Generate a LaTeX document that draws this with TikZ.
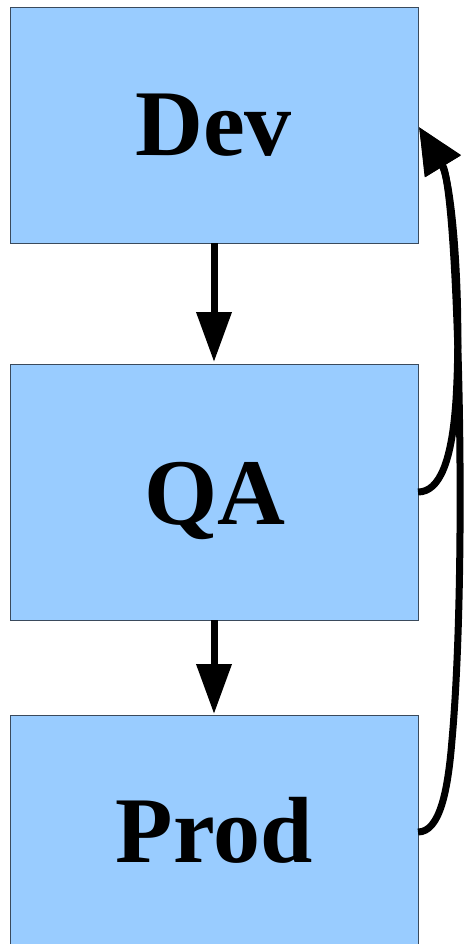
\documentclass[tikz,border=0pt]{standalone}
\usepackage{fontspec}
\setmainfont{Liberation Serif}
\usetikzlibrary{arrows.meta}
\definecolor{boxfill}{HTML}{99CCFF}
\definecolor{boxline}{HTML}{3A4A5C}
\begin{document}
\begin{tikzpicture}[x=1pt,y=-1pt,
  stagebox/.style={draw=boxline,line width=1pt,fill=boxfill,rectangle,inner sep=0pt,minimum width=408pt},
  stagelabel/.style={anchor=base,inner sep=0pt,font=\fontsize{94}{94}\selectfont\bfseries},
  flow/.style={line width=7pt,-{Triangle[length=50pt,width=34pt]}},
  back/.style={line width=7pt,-{Triangle[length=46pt,width=40pt]}}]
\useasboundingbox (0,0) rectangle (465,944);
\begin{scope}
\clip (0,0) rectangle (465,944);
\node[stagebox,minimum height=235pt] (dev) at (214,125.5) {};
\node[stagebox,minimum height=256pt] (qa) at (214,492) {};
\node[stagebox,minimum height=250pt] (prod) at (214,840) {};
\end{scope}
\node[stagelabel] (devt) at (213.5,156) {Dev};
\node[stagelabel] (qat) at (215,524) {QA};
\node[stagelabel] (prodt) at (214,862) {Prod};
\coordinate (tip) at (419,127);
\coordinate (qaout) at (418,492);
\coordinate (prodout) at (418,832);
\coordinate (devin) at (214,243);
\coordinate (qain) at (214,362);
\coordinate (qabot) at (214,620);
\coordinate (prodin) at (214,714);
\draw[flow] (devin) -- (qain);
\draw[flow] (qabot) -- (prodin);
\draw[back] (qaout) .. controls (440,492) and (452,460) .. (456,400)
  .. controls (462,300) and (452,182) .. (tip);
\draw[back] (prodout) .. controls (440,832) and (448,790) .. (452,740)
  .. controls (468,560) and (458,190) .. (tip);
\end{tikzpicture}
\end{document}
